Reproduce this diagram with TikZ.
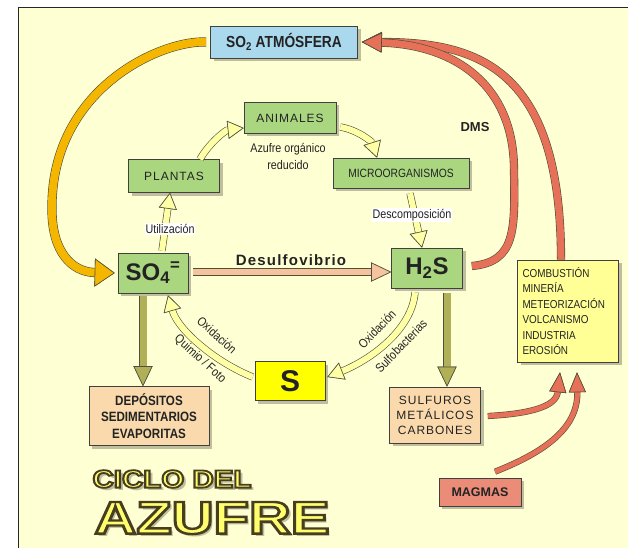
\documentclass[tikz,border=0pt]{standalone}
\usepackage{fontspec}
\usepackage{graphicx}
\setmainfont{Liberation Sans}
\newfontfamily\narrowfont[FakeStretch=0.86]{Liberation Sans}
\newfontfamily\spacedfont[LetterSpace=8]{Liberation Sans}
\usetikzlibrary{arrows.meta,shadows}

\definecolor{paper}{RGB}{255,255,212}
\definecolor{leafgreen}{RGB}{170,214,128}
\definecolor{skyblue}{RGB}{170,216,236}
\definecolor{peach}{RGB}{250,218,172}
\definecolor{salmon}{RGB}{234,140,120}
\definecolor{lemon}{RGB}{255,255,150}
\definecolor{sulfur}{RGB}{255,255,0}
\definecolor{amber}{RGB}{245,182,0}
\definecolor{brick}{RGB}{230,112,88}
\definecolor{olive}{RGB}{176,176,88}
\definecolor{paleyellow}{RGB}{255,255,165}
\definecolor{apricot}{RGB}{245,196,158}
\definecolor{edge}{RGB}{80,80,60}
\definecolor{titleyellow}{RGB}{255,255,110}
\definecolor{ink}{RGB}{35,35,35}

\newcommand{\fsz}[1]{\fontsize{#1}{#1}\selectfont}
% filled + stroked glyphs (outline round the title letters)
\newcommand{\outlined}[2]{\special{pdf:literal direct 2 Tr #1 w 0.28 0.24 0.12 RG}#2\special{pdf:literal direct 0 Tr}}

\begin{document}
\begin{tikzpicture}[x=1pt,y=-1pt,
box/.style={draw=black!75, line width=0.6pt, text=ink, inner sep=0pt, align=center,
  drop shadow={shadow xshift=3pt, shadow yshift=-3pt, opacity=0.25, fill=black}},
greenbox/.style={box, fill=leafgreen, font=\spacedfont\fsz{12}},
lbl/.style={text=ink, inner sep=1pt, font=\narrowfont\fsz{12.5}},
titleword/.style={inner sep=0pt, font=\bfseries\fsz{25}},
fatarrow/.style n args={4}{draw=#1, line width=#2,
  -{Triangle[length=#3, width=#4, fill=#1, color=edge, line width=0.6pt]},
  preaction={draw=edge, line width=#2+1.2pt}},
paler/.style={fatarrow={paleyellow}{6pt}{16pt}{18pt}}]

\useasboundingbox (0,0) rectangle (628,548);
\fill[white] (0,0) rectangle (628,548);
\fill[paper] (18,7) rectangle (628,548);
\draw[black!85, line width=0.8pt] (18,548) -- (18,7) -- (628,7);

% boxes
\node[box, fill=skyblue, minimum width=147pt, minimum height=32pt, font=\narrowfont\bfseries\fsz{16}] (so2) at (284,42) {SO\textsubscript{2} ATMÓSFERA};
\node[greenbox, minimum width=92pt, minimum height=31pt] (animales) at (290,118) {ANIMALES};
\node[greenbox, minimum width=91pt, minimum height=33pt] (plantas) at (174,176) {PLANTAS};
\node[greenbox, minimum width=136pt, minimum height=30pt, font=\narrowfont\fsz{12}] (micro) at (401,173) {MICROORGANISMOS};
\node[greenbox, minimum width=70pt, minimum height=40pt, font=\bfseries\fsz{24}] (so4) at (153,273) {SO\textsubscript{4}\textsuperscript{=}};
\node[greenbox, minimum width=71pt, minimum height=40pt, font=\bfseries\fsz{24}] (h2s) at (427,268) {H\textsubscript{2}S};
\node[box, fill=sulfur, minimum width=70pt, minimum height=39pt, font=\bfseries\fsz{30}] (s) at (290,381) {S};
\node[box, fill=peach, minimum width=120pt, minimum height=59pt, font=\narrowfont\bfseries\fontsize{13.5}{16.5}\selectfont] (depositos) at (149,416) {DEPÓSITOS\\SEDIMENTARIOS\\EVAPORITAS};
\node[box, fill=peach, minimum width=91pt, minimum height=56pt, font=\spacedfont\fontsize{12}{15}\selectfont] (sulfuros) at (435,415) {SULFUROS\\METÁLICOS\\CARBONES};
\node[box, fill=lemon, minimum width=101pt, minimum height=102pt, text width=91pt, align=left, font=\narrowfont\fontsize{11.5}{15.4}\selectfont] (combustion) at (568,311) {COMBUSTIÓN\\MINERÍA\\METEORIZACIÓN\\VOLCANISMO\\INDUSTRIA\\EROSIÓN};
\node[box, fill=salmon, minimum width=82pt, minimum height=28pt, font=\bfseries\fsz{12.5}] (magmas) at (480,492) {MAGMAS};

% big loops
\coordinate (obend) at (52,210);
\coordinate (dmsbend) at (514,170);
\draw[fatarrow={amber}{8pt}{20pt}{28pt}] ([xshift=-4pt]so2.west) .. controls (160,40) and (50,90) .. (obend) .. controls (52,252) and (72,272) .. ([xshift=-3pt]so4.west);
\draw[fatarrow={brick}{7pt}{20pt}{20pt}] ([xshift=-7pt]combustion.north) .. controls (561,70) and (480,42) .. ([xshift=4pt]so2.east);
\draw[fatarrow={brick}{7pt}{20pt}{20pt}] ([xshift=9pt,yshift=2pt]h2s.east) .. controls (516,262) and (515,230) .. (dmsbend) .. controls (514,85) and (455,45) .. ([xshift=4pt]so2.east);
\draw[fatarrow={brick}{5pt}{20pt}{17pt}] ([xshift=7pt,yshift=-1pt]sulfuros.east) .. controls (525,414) and (556,408) .. ([xshift=-8pt,yshift=-10pt]combustion.south);
\draw[fatarrow={brick}{5pt}{20pt}{17pt}] ([xshift=15pt,yshift=6pt]magmas.north) .. controls (545,452) and (578,428) .. ([xshift=9pt,yshift=-10pt]combustion.south);

% straight ones
\draw[fatarrow={olive}{7pt}{20pt}{19pt}] ([xshift=-10pt,yshift=-3pt]so4.south) -- ([xshift=-6pt]depositos.north);
\draw[fatarrow={olive}{7pt}{20pt}{19pt}] ([xshift=20pt,yshift=-5pt]h2s.south) -- ([xshift=12pt]sulfuros.north);
\draw[fatarrow={apricot}{6pt}{20pt}{19pt}] ([xshift=5pt,yshift=1pt]so4.east) -- ([yshift=-4pt]h2s.west);

% inner cycle
\draw[paler] ([xshift=9pt,yshift=2pt]so4.north) -- ([xshift=-4pt]plantas.south);
\draw[paler] ([xshift=26pt]plantas.north) .. controls (210,142) and (226,130) .. ([yshift=-10pt]animales.west);
\draw[paler] ([xshift=4pt,yshift=-9pt]animales.east) .. controls (358,130) and (372,142) .. ([xshift=-24pt]micro.north);
\draw[paler] ([xshift=9pt,yshift=-5pt]micro.south) -- ([xshift=-5pt]h2s.north);
\draw[paler] ([xshift=-12pt,yshift=-4pt]h2s.south) .. controls (412,330) and (370,360) .. ([xshift=2pt,yshift=4pt]s.east);
\draw[paler] ([xshift=-2pt,yshift=4pt]s.west) .. controls (215,362) and (178,330) .. ([xshift=15pt,yshift=-2pt]so4.south);

% labels
\node[lbl, fill=white] (utiliz) at (170,229) {Utilización};
\node[lbl, fill=white] (descomp) at (412,215) {Descomposición};
\node[lbl, align=center, font=\narrowfont\fontsize{12.5}{17}\selectfont] (azufreorg) at (288,156) {Azufre orgánico\\reducido};
\node[lbl, font=\spacedfont\bfseries\fsz{15}] (desulfo) at (291,260) {Desulfovibrio};
\node[lbl, font=\bfseries\fsz{13}] (dms) at (475,127) {DMS};
\node[lbl, rotate=-42] (oxizq) at (217,335) {Oxidación};
\node[lbl, rotate=-42] (quimio) at (200,359) {Quimio / Foto};
\node[lbl, rotate=46] (oxder) at (377,329) {Oxidación};
\node[lbl, rotate=46] (sulfob) at (401,346) {Sulfobacterias};

% title
\node[titleword, text=black, opacity=0.25] (ciclosh) at (175,482) {\scalebox{1.18}[1]{CICLO DEL}};
\node[titleword, font=\bfseries\fsz{46}, text=black, opacity=0.25] (azufresh) at (215,521) {\scalebox{1.26}[1]{AZUFRE}};
\node[titleword, text=titleyellow] (ciclo) at (172,479) {\scalebox{1.18}[1]{\outlined{1.8}{CICLO DEL}}};
\node[titleword, font=\bfseries\fsz{46}, text=titleyellow] (azufre) at (212,518) {\scalebox{1.26}[1]{\outlined{2.4}{AZUFRE}}};
\end{tikzpicture}
\end{document}
